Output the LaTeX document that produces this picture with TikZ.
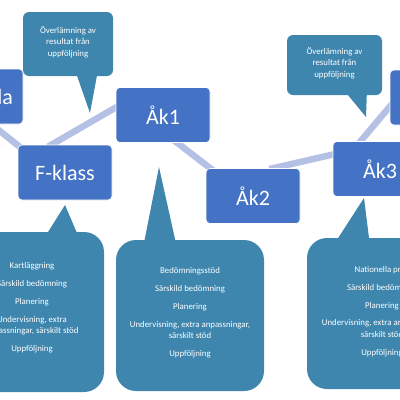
\documentclass[tikz,border=0pt]{standalone}
\usepackage{fontspec}
\setmainfont{Carlito}
\usetikzlibrary{backgrounds}
\definecolor{boxblue}{RGB}{68,114,196}
\definecolor{linkblue}{RGB}{180,193,228}
\definecolor{calloutteal}{RGB}{62,134,174}
\begin{document}
\begin{tikzpicture}[x=1pt,y=-1pt,
  box/.style={fill=boxblue, draw=white, line width=0.6pt, rounded corners=4pt,
    minimum width=94pt, minimum height=55pt, inner sep=0pt, text=white,
    font=\fontsize{22}{26}\selectfont},
  link/.style={draw=linkblue, line width=6.5pt, shorten <=-4pt, shorten >=-4pt},
  bubble/.style={fill=calloutteal},
  bubbletext/.style={text=white, align=center, inner sep=0pt,
    font=\fontsize{8.8}{11.5}\selectfont}]
\useasboundingbox (0,0) rectangle (400,400);
\clip (0,0) rectangle (400,400);

% boxes
\node[box] (la)  at (-24,96.5) {Förskola};
\node[box] (fk)  at (65,172.5) {F-klass};
\node[box] (ak1) at (163,115) {Åk1};
\node[box] (ak2) at (253,196) {Åk2};
\node[box] (ak3) at (380,169) {Åk3};
\node[box] (tr)  at (437,97.5) {};

% connectors behind boxes
\begin{scope}[on background layer]
  \draw[link] (la.299) -- (fk.150);
  \draw[link] (fk.116) -- (ak1.171);
  \draw[link] (ak1.297) -- (ak2.147);
  \draw[link] (ak2.54) -- (ak3.163);
  \draw[link] (ak3.125) -- (tr.191);
\end{scope}

% top-left callout
\fill[bubble, rounded corners=6pt] (23,12) rectangle (113,76);
\fill[bubble] (75,70) -- (90,113) -- (98,70) -- cycle;
\node[bubbletext] (t1) at (68,42) {Överlämning av\\resultat från\\uppföljning};

% top-right callout
\fill[bubble, rounded corners=6pt] (287,35) rectangle (382,95);
\fill[bubble] (343,89) -- (366,117) -- (367,89) -- cycle;
\node[bubbletext] (t2) at (334.5,63) {Överlämning av\\resultat från\\uppföljning};

% bottom-left callout
\fill[bubble, rounded corners=20pt] (-40,232) rectangle (104,392);
\fill[bubble] (43,240) -- (65,205) -- (80,240) -- cycle;
\node[bubbletext] (t3) at (32,308) {Kartläggning\\[6.5pt]Särskild bedömning\\[6.5pt]Planering\\[6pt]Undervisning, extra\\anpassningar, särskilt stöd\\[6.5pt]Uppföljning};

% bottom-middle callout
\fill[bubble, rounded corners=20pt] (116,240) rectangle (264,391);
\fill[bubble] (143,248) -- (159,167) -- (177,248) -- cycle;
\node[bubbletext] (t4) at (190,313) {Bedömningsstöd\\[6.5pt]Särskild bedömning\\[6.5pt]Planering\\[6pt]Undervisning, extra anpassningar,\\särskilt stöd\\[6.5pt]Uppföljning};

% bottom-right callout
\fill[bubble, rounded corners=20pt] (307,238) rectangle (456,389);
\fill[bubble] (333,246) -- (364,198) -- (370,246) -- cycle;
\node[bubbletext] (t5) at (382,311.5) {Nationella prov\\[6.5pt]Särskild bedömning\\[6.5pt]Planering\\[6pt]Undervisning, extra anpassningar,\\särskilt stöd\\[6.5pt]Uppföljning};
\end{tikzpicture}
\end{document}
